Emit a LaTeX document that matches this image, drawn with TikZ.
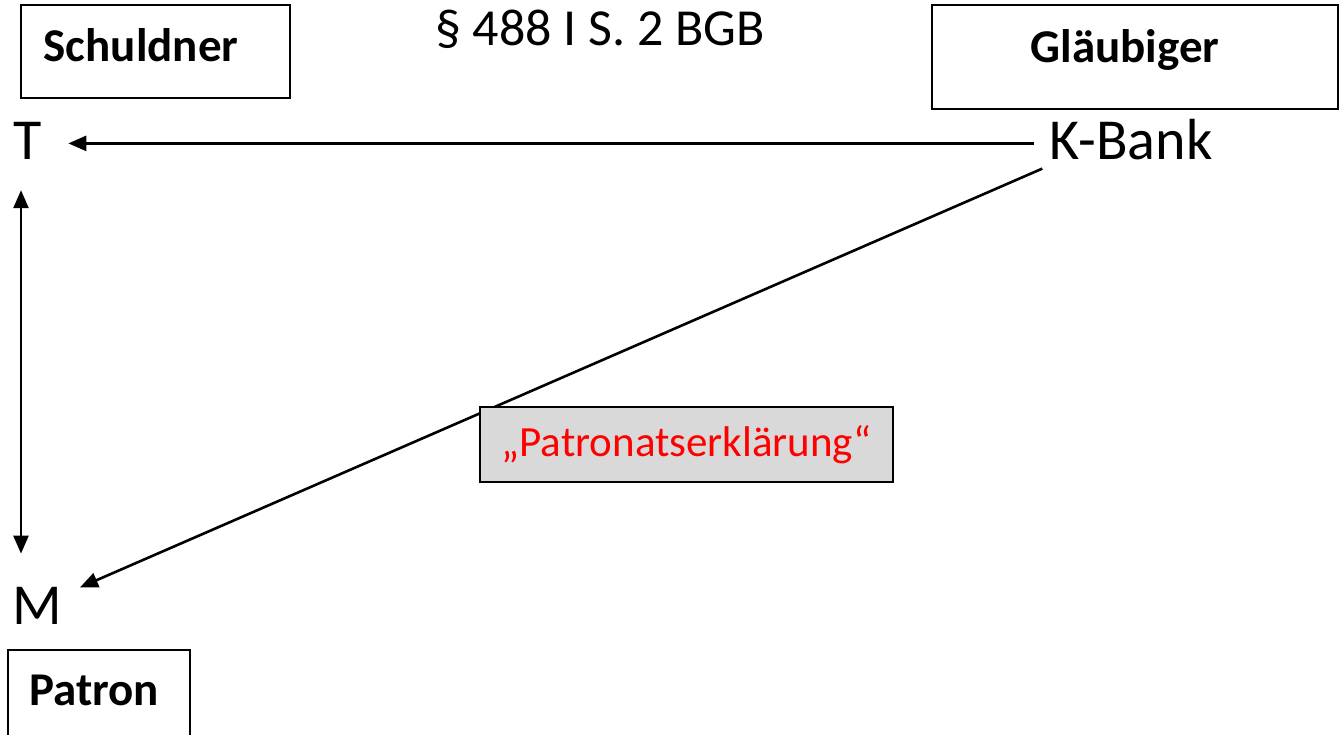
\documentclass[tikz,border=0pt]{standalone}
\usepackage{fontspec}
\setmainfont{Carlito}
\usetikzlibrary{arrows.meta}
\definecolor{boxgrey}{HTML}{D9D9D9}
\definecolor{txtred}{HTML}{FF0000}
\tikzset{
  frame/.style={draw=black, line width=1.8pt, minimum width=#1, inner sep=0pt},
  boldlbl/.style={anchor=base, inner sep=0pt, font=\fontsize{47}{56}\selectfont\bfseries},
  party/.style={anchor=base, inner sep=0pt, font=\fontsize{58}{68}\selectfont},
  tip/.tip={Triangle[length=18pt,width=15pt]},
  conn/.style={line width=2.6pt, -tip},
  dconn/.style={line width=2.6pt, tip-tip},
}
\begin{document}
\begin{tikzpicture}[x=1pt,y=-1pt]
\useasboundingbox (0,0) rectangle (1344,735);
\clip (0,0) rectangle (1344,735);
% boxes
\node[frame=269pt, minimum height=93pt] (schbox) at (155.5,51.5) {};
\node[boldlbl] (sch) at (141,62) {Schuldner};
\node[frame=406pt, minimum height=104pt] (glbox) at (1135,57) {};
\node[boldlbl] (gl) at (1125,63) {Gläubiger};
\node[frame=182pt, minimum height=110pt] (patbox) at (99,705) {};
\node[boldlbl] (pat) at (94,705) {Patron};
% title
\node[anchor=base, inner sep=0pt, font=\fontsize{52}{62}\selectfont] (title) at (600,46) {§ 488 I S. 2 BGB};
% parties
\node[party] (T) at (28,160) {T};
\node[party] (K) at (1131,160) {K-Bank};
\node[party] (M) at (37,624) {M};
% connectors
\draw[conn, shorten <=15pt, shorten >=26pt] ([yshift=-2pt]T.east -| K.west) -- ([yshift=-2pt]T.east);
\draw[dconn, shorten <=30pt, shorten >=33pt] ([xshift=-7pt]T.south) -- ([xshift=-7pt]T.south |- M.north);
\draw[conn] ([xshift=-7pt,yshift=-8pt]K.south west) -- ([xshift=18pt,yshift=18pt]M.east);
% label box
\node[draw=black, line width=1.8pt, fill=boxgrey, minimum width=413pt, minimum height=75pt, inner sep=0pt,
      text=txtred, font=\fontsize{43}{50}\selectfont] (pe) at (686.5,444.5) {„Patronatserklärung“};
\end{tikzpicture}
\end{document}
